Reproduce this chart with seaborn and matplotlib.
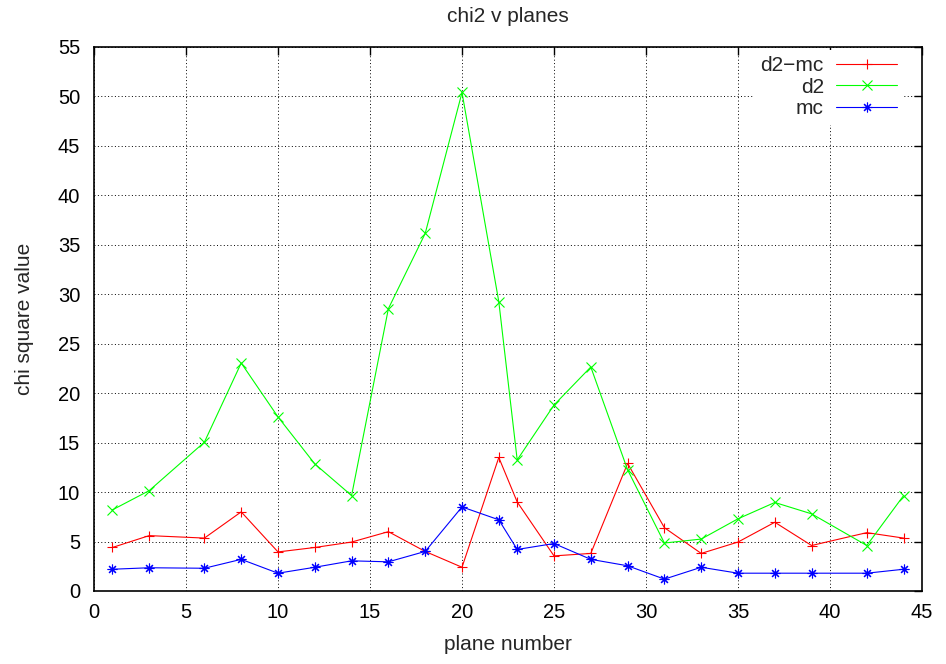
import numpy as np
import pandas as pd
import matplotlib
matplotlib.use("Agg")
import matplotlib.pyplot as plt
import seaborn as sns

# plane numbers and chi-square values per series
planes = [1, 3, 6, 8, 10, 12, 14, 16, 18, 20, 22, 23, 25, 27, 29, 31, 33, 35, 37, 39, 42, 44]
d2_mc = [4.4, 5.6, 5.35, 8.0, 3.95, 4.4, 4.95, 6.0, 4.0, 2.4, 13.5, 9.0, 3.55, 3.8, 12.9, 6.4,
         3.8, 4.95, 6.95, 4.6, 5.9, 5.35]
d2 = [8.2, 10.15, 15.05, 23.05, 17.6, 12.85, 9.65, 28.55, 36.15, 50.4, 29.25, 13.25, 18.8, 22.65,
      12.25, 4.85, 5.25, 7.3, 8.95, 7.8, 4.6, 9.65]
mc = [2.2, 2.35, 2.3, 3.2, 1.8, 2.4, 3.05, 2.95, 4.0, 8.5, 7.2, 4.2, 4.8, 3.2, 2.55, 1.2,
      2.4, 1.8, 1.8, 1.8, 1.8, 2.2]

series_names = ["d2\u2212mc", "d2", "mc"]
series_values = [d2_mc, d2, mc]
colors = ["#ff0000", "#00ff00", "#0000ff"]
markers = ["+", "x", (8, 2, 0)]

x_ticks = list(range(0, 50, 5))
y_ticks = list(range(0, 60, 5))

sns.set_theme(style="white")
plt.rcParams["font.family"] = ["Liberation Sans", "DejaVu Sans"]
plt.rcParams["axes.unicode_minus"] = True

W, H = 946, 664
fig = plt.figure(figsize=(W / 100, H / 100), dpi=100)
ax = fig.add_axes([94 / W, 1 - 591 / H, (922 - 94) / W, (591 - 47) / H])

for name, vals, col, mk in zip(series_names, series_values, colors, markers):
    df = pd.DataFrame({"plane": planes, "chi2": vals})
    sns.lineplot(data=df, x="plane", y="chi2", ax=ax, color=col, marker=mk,
                 markersize=7, markeredgewidth=0.8, markeredgecolor=col,
                 linewidth=0.8, label=name)

ax.set_xlim(0, 45)
ax.set_ylim(0, 55)
ax.set_xticks(x_ticks)
ax.set_yticks(y_ticks)
ax.tick_params(direction="in", length=6, width=1, top=True, right=True,
               labelsize=14.5, colors="black")
ax.tick_params(axis="x", pad=9)
ax.tick_params(axis="y", pad=10)
ax.grid(True, color="black", linestyle=(0, (1, 2.5)), linewidth=0.7)
for s in ax.spines.values():
    s.set_visible(True)
    s.set_color("black")
    s.set_linewidth(1.2)

ax.set_xlabel("")
ax.set_ylabel("")
fig.text(0.5 * (94 + 922) / W, 1 - 17 / H, "chi2 v planes", fontsize=15,
         ha="center", va="center")
fig.text(0.5 * (94 + 922) / W, 1 - 645 / H, "plane number", fontsize=15,
         ha="center", va="center")
fig.text(25 / W, 1 - 0.5 * (47 + 591) / H, "chi square value", fontsize=15,
         ha="center", va="center", rotation=90)

leg = ax.legend(loc="upper right", bbox_to_anchor=(1 - 19 / 828, 1 - 3 / 544),
                frameon=True, markerfirst=False, fontsize=15,
                handlelength=2.9, labelspacing=0.12, borderaxespad=0,
                borderpad=0.3, handletextpad=0.6, fancybox=False, framealpha=1)
leg.get_frame().set_edgecolor("white")
leg.get_frame().set_facecolor("white")
leg.get_frame().set_linewidth(0)

fig.savefig("out.png", dpi=100, facecolor="white")
